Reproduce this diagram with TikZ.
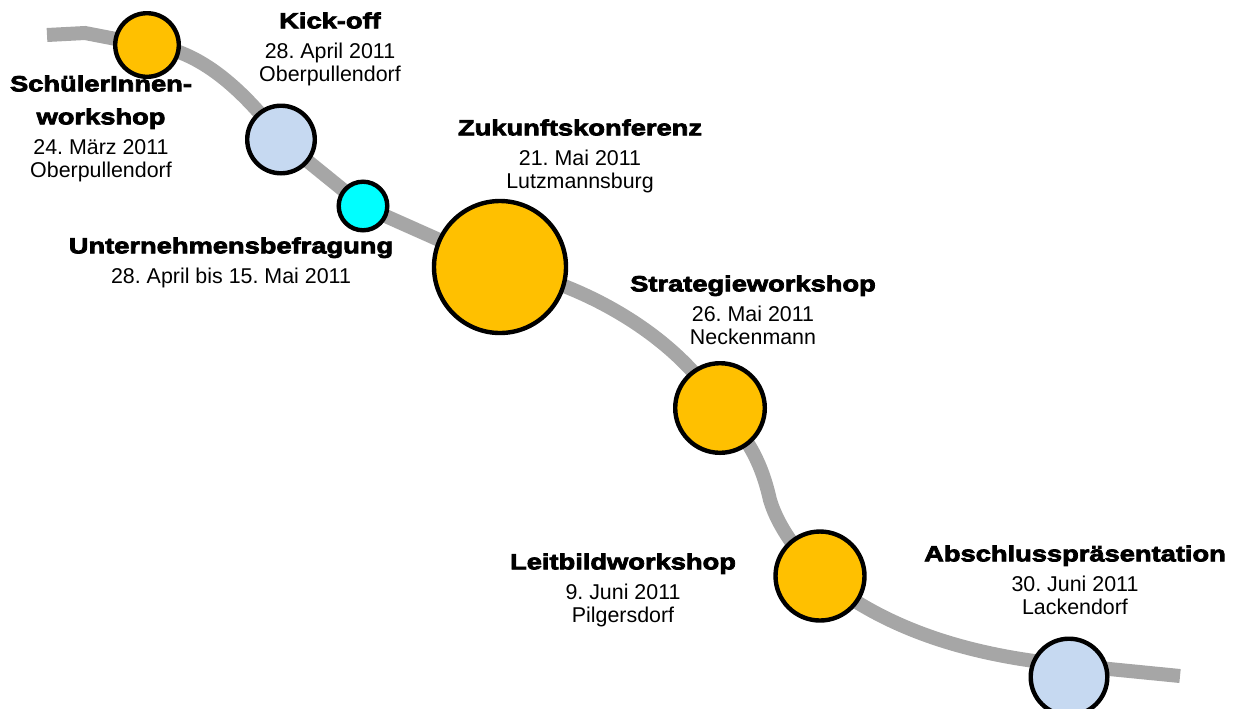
\documentclass[tikz,border=0pt]{standalone}
\usepackage{fontspec}
\setmainfont{Liberation Sans}
\newfontfamily\titlefont{Liberation Sans}[FakeStretch=1.24, BoldFeatures={FakeBold=3.5}]
\usetikzlibrary{positioning,backgrounds}
\frenchspacing

\definecolor{gold}{HTML}{FFC000}
\definecolor{paleblue}{HTML}{C6D9F1}
\definecolor{aqua}{HTML}{00FFFF}
\definecolor{trackgray}{HTML}{A6A6A6}

\tikzset{
  milestone/.style={circle, draw=black, line width=2.2pt, inner sep=0pt},
  track/.style={draw=trackgray, line width=7pt},
  info/.style={align=center, inner sep=0pt, anchor=north,
    font={\fontsize{10.7}{11.5}\selectfont}},
}
\newcommand{\eventtitle}[1]{{\titlefont\bfseries\fontsize{11}{11.5}\selectfont #1}}

\begin{document}
\begin{tikzpicture}[x=0.5pt, y=-0.5pt]
  \useasboundingbox (0,0) rectangle (1240,708);

  % Milestones along the track
  \node[milestone, fill=gold,     minimum size=31.8pt] (schueler)   at (147,45)    {};
  \node[milestone, fill=paleblue, minimum size=33.8pt] (kickoff)    at (281,139.5) {};
  \node[milestone, fill=aqua,     minimum size=24.3pt] (befragung)  at (363,206)   {};
  \node[milestone, fill=gold,     minimum size=66pt]   (zukunft)    at (500,267)   {};
  \node[milestone, fill=gold,     minimum size=44.8pt] (strategie)  at (720,408)   {};
  \node[milestone, fill=gold,     minimum size=44.5pt] (leitbild)   at (820,576)   {};
  \node[milestone, fill=paleblue, minimum size=38.3pt] (abschluss)  at (1069,677)  {};

  % Bends of the track
  \coordinate (start) at (47,35);
  \coordinate (kink)  at (85,33);
  \coordinate (bend)  at (770,500);
  \coordinate (stop)  at (1180,676);

  % Draw the track behind the milestones
  \begin{scope}[on background layer]
    \draw[track] (start) -- (kink) -- (schueler.center)
      .. controls (195,48) and (240,85) .. (kickoff.center)
      -- (befragung.center) -- (zukunft.center)
      .. controls (590,285) and (680,340) .. (strategie.center)
      .. controls (750,440) and (762,465) .. (bend)
      .. controls (776,520) and (790,545) .. (leitbild.center)
      .. controls (880,625) and (960,655) .. ([yshift=6pt]abschluss.center)
      -- (stop);
  \end{scope}

  % Labels
  \node[info] (schuelerlbl)  at (101,75)  {\eventtitle{SchülerInnen-}\\[5pt]\eventtitle{workshop}\\[3.5pt]24. März 2011\\Oberpullendorf};
  \node[info] (kickofflbl)   at (330,12)  {\eventtitle{Kick-off}\\[3.5pt]28. April 2011\\Oberpullendorf};
  \node[info] (befragunglbl) at (231,237) {\eventtitle{Unternehmensbefragung}\\[3.5pt]28. April bis 15. Mai 2011};
  \node[info] (zukunftlbl)   at (580,119) {\eventtitle{Zukunftskonferenz}\\[3.5pt]21. Mai 2011\\Lutzmannsburg};
  \node[info] (strategielbl) at (753,275) {\eventtitle{Strategieworkshop}\\[3.5pt]26. Mai 2011\\Neckenmann};
  \node[info] (leitbildlbl)  at (623,553) {\eventtitle{Leitbildworkshop}\\[3.5pt]9. Juni 2011\\Pilgersdorf};
  \node[info] (abschlusslbl) at (1075,545) {\eventtitle{Abschlusspräsentation}\\[3.5pt]30. Juni 2011\\Lackendorf};

\end{tikzpicture}
\end{document}
